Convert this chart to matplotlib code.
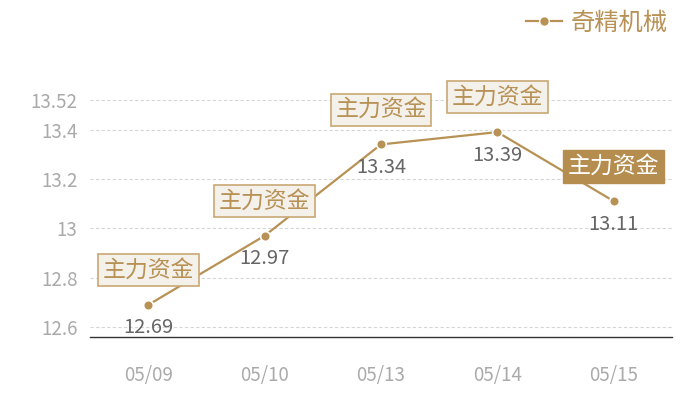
import matplotlib
matplotlib.use("Agg")
import matplotlib.pyplot as plt
from matplotlib.lines import Line2D

dates = ["05/09", "05/10", "05/13", "05/14", "05/15"]
prices = [12.69, 12.97, 13.34, 13.39, 13.11]
tag_text = "主力资金"
highlight = [False, False, False, False, True]
yticks = [12.6, 12.8, 13.0, 13.2, 13.4, 13.52]
ytick_labels = ["12.6", "12.8", "13", "13.2", "13.4", "13.52"]
series_name = "奇精机械"

gold = "#b89155"
plt.rcParams["font.family"] = ["Noto Sans CJK SC", "DejaVu Sans"]

fig = plt.figure(figsize=(7, 4), dpi=100)
ax = fig.add_axes([90 / 700, 63 / 400, 582 / 700, 237 / 400])

x = list(range(len(dates)))
ax.plot(x, prices, color=gold, linewidth=1.6, marker="o", markersize=7,
        markeredgecolor="white", markeredgewidth=1.2, zorder=3)

for xi, v, hl in zip(x, prices, highlight):
    ax.annotate(f"{v:.2f}", (xi, v), xytext=(0, -16.5), textcoords="offset points",
                ha="center", va="center", fontsize=14.5, color="#666666", zorder=4)
    if hl:
        box = dict(boxstyle="square,pad=0.2", facecolor="#b58d4f", edgecolor="#b58d4f")
        tc = "white"
    else:
        box = dict(boxstyle="square,pad=0.2", facecolor="#f4f0ea", edgecolor="#c9a874", linewidth=1.2)
        tc = gold
    ax.annotate(tag_text, (xi, v), xytext=(0, 25), textcoords="offset points",
                ha="center", va="center", fontsize=16.5, color=tc, bbox=box, zorder=5)

ax.set_xlim(-0.5, len(dates) - 0.5)
ax.set_ylim(12.56, 13.52)
ax.set_xticks(x)
ax.set_xticklabels(dates)
ax.set_yticks(yticks)
ax.set_yticklabels(ytick_labels)
ax.tick_params(axis="both", length=0, labelsize=13.5, labelcolor="#aaaaaa")
ax.tick_params(axis="x", pad=20)
ax.tick_params(axis="y", pad=9)
ax.grid(axis="y", linestyle=(0, (3, 2)), color="#d6d6d6", linewidth=0.8)
ax.set_axisbelow(True)
for s in ["top", "right", "left"]:
    ax.spines[s].set_visible(False)
ax.spines["bottom"].set_color("#333333")
ax.spines["bottom"].set_linewidth(1)

handle = Line2D([], [], color=gold, marker="o", markersize=7, linewidth=1.6,
                markeredgecolor="white", markeredgewidth=1)
fig.legend([handle], [series_name], loc="upper right", bbox_to_anchor=(0.985, 1.03),
           frameon=False, fontsize=17.5, labelcolor=gold, handlelength=1.5, handletextpad=0.35)

fig.savefig("out.png", dpi=100)
